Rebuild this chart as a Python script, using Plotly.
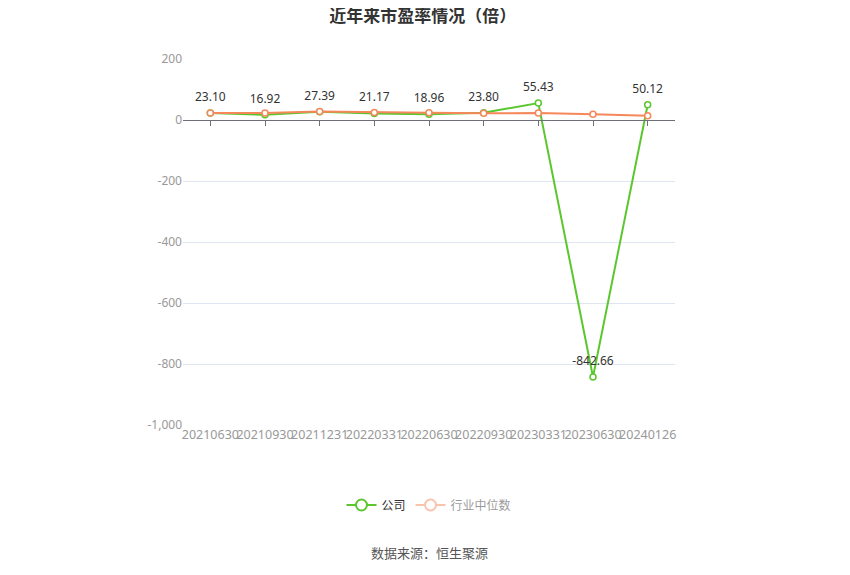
import plotly.graph_objects as go

# 数据
dates = ["20210630", "20210930", "20211231", "20220331", "20220630",
         "20220930", "20230331", "20230630", "20240126"]
company = [23.10, 16.92, 27.39, 21.17, 18.96, 23.80, 55.43, -842.66, 50.12]
industry = [23, 23, 28, 25, 24, 22, 23, 19, 14]
ytick_vals = [200, 0, -200, -400, -600, -800, -1000]
ytick_text = ["200", "0", "-200", "-400", "-600", "-800", "-1,000"]

green = "#5cc62f"
orange = "#f5875a"
font = "Noto Sans, Noto Sans CJK SC, sans-serif"

fig = go.Figure()

# 公司
fig.add_trace(go.Scatter(
    x=dates, y=company, mode="lines+markers", name="公司",
    line=dict(color=green, width=2),
    marker=dict(symbol="circle", size=6, color="white", line=dict(color=green, width=1.5)),
    showlegend=False,
))
# 行业中位数 (drawn on top)
fig.add_trace(go.Scatter(
    x=dates, y=industry, mode="lines+markers", name="行业中位数",
    line=dict(color=orange, width=2),
    marker=dict(symbol="circle", size=6, color="white", line=dict(color=orange, width=1.5)),
    showlegend=False,
))
# value labels of 公司 (invisible larger markers push text up)
fig.add_trace(go.Scatter(
    x=dates, y=company, mode="markers+text", text=["%.2f" % v for v in company],
    textposition="top center", textfont=dict(size=12, color="#333333"),
    marker=dict(size=13, color="rgba(0,0,0,0)"), showlegend=False, hoverinfo="skip",
))
# legend entries
fig.add_trace(go.Scatter(
    x=dates[:1], y=[None], mode="lines+markers", name="公司",
    line=dict(color=green, width=2),
    marker=dict(symbol="circle", size=11, color="white", line=dict(color=green, width=2)),
    hoverinfo="skip",
))
fig.add_trace(go.Scatter(
    x=dates[:1], y=[None], mode="lines+markers", name="行业中位数",
    line=dict(color=orange, width=2),
    marker=dict(symbol="circle", size=11, color="white", line=dict(color=orange, width=2)),
    visible="legendonly", hoverinfo="skip",
))
# axis line at zero with category ticks
fig.add_trace(go.Scatter(x=dates, y=[0] * len(dates), xaxis="x2", mode="none",
                         showlegend=False, hoverinfo="skip"))

fig.update_layout(
    width=850, height=575,
    paper_bgcolor="white", plot_bgcolor="white",
    margin=dict(l=175, r=183, t=51, b=158),
    font=dict(family=font, size=12, color="#999999"),
    title=dict(text="<b>近年来市盈率情况（倍）</b>", x=0.488, y=0.986, xanchor="center",
               yanchor="middle",
               font=dict(family="Noto Sans CJK SC, sans-serif", size=17, color="#333333")),
    xaxis=dict(type="category", range=[-0.5, len(dates) - 0.5],
               showgrid=False, showline=False, ticks="",
               tickangle=0, tickfont=dict(size=12.5, color="#999999")),
    xaxis2=dict(type="category", range=[-0.5, len(dates) - 0.5],
                overlaying="x", anchor="free", position=1000 / 1200,
                showline=True, linecolor="#6e7079", linewidth=1, ticks="outside",
                ticklen=5, tickcolor="#6e7079", showticklabels=False, showgrid=False),
    yaxis=dict(range=[-1000, 200], tickvals=ytick_vals, ticktext=ytick_text,
               showgrid=True, gridcolor="#e0e6f1", zeroline=False, showline=False,
               tickfont=dict(size=12, color="#999999")),
    legend=dict(orientation="h", x=0.5, xanchor="center", y=-0.2186, yanchor="middle",
                font=dict(family="Noto Sans CJK SC, sans-serif", size=12, color="#333333"),
                itemwidth=30),
    showlegend=True,
    annotations=[dict(text="数据来源：恒生聚源", x=0.5, xref="paper", y=-0.3497,
                      yref="paper", yanchor="middle", showarrow=False,
                      font=dict(family="Noto Sans CJK SC, sans-serif",
                                size=13, color="#555555"))],
)

fig.write_html("out.html")
